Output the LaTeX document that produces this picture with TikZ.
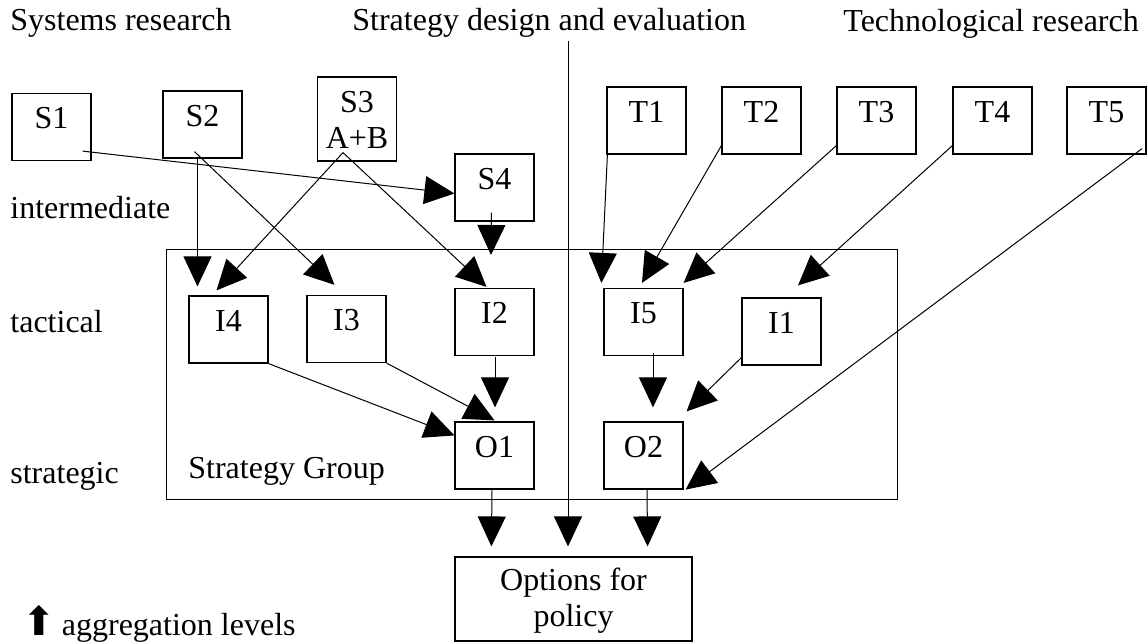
\documentclass[tikz,border=0pt]{standalone}
\usepackage{fontspec}
\setmainfont{Liberation Serif}
\newfontfamily\symbfont{DejaVu Sans}
\usetikzlibrary{arrows.meta}

\begin{document}
\begin{tikzpicture}[x=0.5pt,y=-0.5pt,
  font=\fontsize{16}{18}\selectfont,
  box/.style={draw,line width=0.6pt,inner sep=0pt,minimum width=39.5pt,
    align=center,text height=17.5pt,text depth=16pt},
  lbl/.style={inner sep=0pt,anchor=base west},
  arr/.style={-{Triangle[length=15pt,width=14pt]},line width=0.5pt}]
\useasboundingbox (0,0) rectangle (1147,643);

% column headings
\node[lbl] (sysres) at (10,30) {Systems research};
\node[lbl] (stratdes) at (352,30) {Strategy design and evaluation};
\node[lbl] (techres) at (843,31) {Technological research};

% aggregation levels
\node[lbl] (intermed) at (10,218) {intermediate};
\node[lbl] (tactic) at (10,332) {tactical};
\node[lbl] (strateg) at (10,483) {strategic};
\node[lbl] (agg) at (22,635) {{\symbfont\fontsize{20}{20}\selectfont ⬆}\hspace{-1pt} aggregation levels};

% strategy group
\node[draw,line width=0.5pt,inner sep=0pt,minimum width=365.5pt,
  minimum height=125pt] (SG) at (531.5,374) {};
\node[lbl] (sglabel) at (188,478) {Strategy Group};

% research boxes
\node[box] (S1) at (51.5,127) {S1};
\node[box] (S2) at (202.5,124.5) {S2};
\node[box,text height=35.5pt,text depth=6.5pt] (S3) at (357,119) {S3\\A+B};
\node[box] (S4) at (494.5,187.5) {S4};
\foreach \i/\x in {1/646.5,2/761.5,3/876.5,4/992.5,5/1106.5}
  \node[box] (T\i) at (\x,120.5) {T\i};

% tactical and strategic boxes
\node[box] (I4) at (228.5,329.5) {I4};
\node[box] (I3) at (346.5,329) {I3};
\node[box] (I2) at (494.5,322) {I2};
\node[box] (I5) at (643.5,322) {I5};
\node[box] (I1) at (781.5,331.5) {I1};
\node[box] (O1) at (494.5,455.5) {O1};
\node[box] (O2) at (643.5,455.5) {O2};
\node[box,minimum width=118.5pt,text height=34.5pt,text depth=7.5pt]
  (opts) at (573.5,599) {Options for\\policy};

\coordinate (divtop) at (568,41);
\coordinate (sgin) at (491,255);

% connectors
\draw[arr] ([shift={(-9,-10)}]S1.south east) -- ([shift={(0,6)}]S4.west);
\draw[arr] ([shift={(-5,-2)}]S2.south) -- ([shift={(-31,-9)}]I4.north);
\draw[arr] ([shift={(-8,-7)}]S2.south) -- ([shift={(-12,-10)}]I3.north);
\draw[arr] ([shift={(-14,-9)}]S3.south) -- ([shift={(-12,-5)}]I4.north);
\draw[arr] ([shift={(-14,-9)}]S3.south) -- ([shift={(-8,-1)}]I2.north);
\draw[arr] ([shift={(-3,-9)}]S4.south) -- (sgin);
\draw[arr] ([shift={(1,0)}]T1.south west) -- ([shift={(-2,-5)}]I5.north west);
\draw[arr] ([shift={(0,-9)}]T2.south west) -- ([shift={(-1.5,-5)}]I5.north);
\draw[arr] ([shift={(0,-9)}]T3.south west) -- ([shift={(0,-5)}]I5.north east);
\draw[arr] ([shift={(0,-9)}]T4.south west) -- ([shift={(16.5,-12)}]I1.north);
\draw[arr] ([shift={(-4.5,-6)}]T5.south east) -- ([shift={(2,0)}]O2.south east);
\draw[arr] (I4.south east) -- ([shift={(0,14)}]O1.north west);
\draw[arr] (I3.south east) -- ([shift={(0,-1)}]O1.north);
\draw[arr] ([shift={(0.5,1)}]I2.south) -- ([shift={(0.5,-14)}]O1.north);
\draw[arr] ([shift={(9.5,-3)}]I5.south) -- ([shift={(9.5,-14)}]O2.north);
\draw[arr] ([shift={(0,-8)}]I1.south west) -- ([shift={(3,-10)}]O2.north east);
\draw[arr] ([shift={(-2.5,0)}]O1.south) -- ([shift={(37,-10)}]opts.north west);
\draw[arr] (divtop) -- ([shift={(-5.5,-10)}]opts.north);
\draw[arr] ([shift={(3.5,0)}]O2.south) -- ([shift={(-45,-10)}]opts.north east);
\end{tikzpicture}
\end{document}
